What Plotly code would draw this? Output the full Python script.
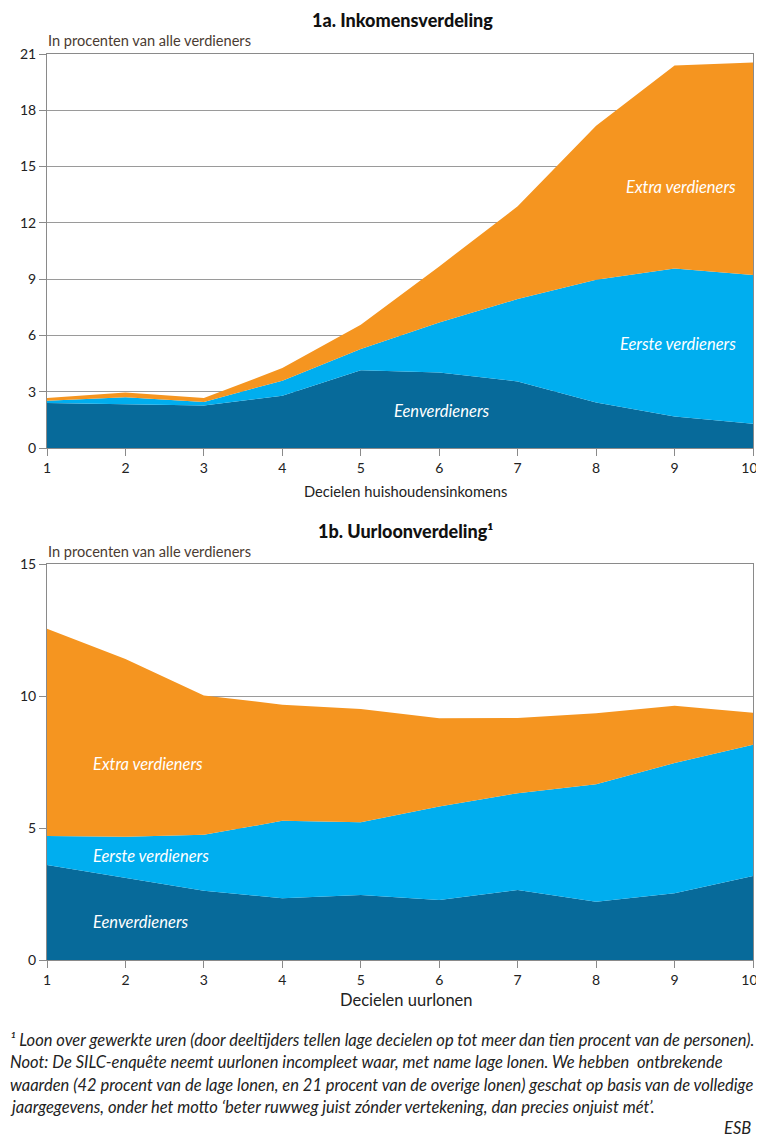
import plotly.graph_objects as go

# ---------------- data ----------------
deciles = [1, 2, 3, 4, 5, 6, 7, 8, 9, 10]
decile_labels = ["1", "2", "3", "4", "5", "6", "7", "8", "9", "10"]

# 1a. Inkomensverdeling (layer values, stacked)
inc_een = [2.40, 2.35, 2.27, 2.79, 4.14, 4.03, 3.55, 2.43, 1.68, 1.29]
inc_eerste = [0.12, 0.35, 0.18, 0.80, 1.14, 2.66, 4.39, 6.54, 7.89, 7.93]
inc_extra = [0.15, 0.26, 0.21, 0.67, 1.29, 2.99, 4.94, 8.21, 10.82, 11.33]

# 1b. Uurloonverdeling (layer values, stacked)
wage_een = [3.60, 3.12, 2.62, 2.34, 2.46, 2.27, 2.65, 2.21, 2.53, 3.18]
wage_eerste = [1.10, 1.55, 2.12, 2.93, 2.76, 3.54, 3.67, 4.45, 4.93, 4.97]
wage_extra = [7.85, 6.73, 5.28, 4.40, 4.29, 3.35, 2.85, 2.69, 2.17, 1.22]

series_names = ["Eenverdieners", "Eerste verdieners", "Extra verdieners"]
colors = ["#076a9a", "#00aeef", "#f59520"]

top_yticks = [0, 3, 6, 9, 12, 15, 18, 21]
bot_yticks = [0, 5, 10, 15]

# ---------------- figure ----------------
OFF = 8  # page body margin
W, H = 764 - OFF, 1142 - 2 * OFF
fig = go.Figure()

for vals, name, col in zip([inc_een, inc_eerste, inc_extra], series_names, colors):
    fig.add_trace(go.Scatter(x=deciles, y=vals, name=name, mode="lines",
                             stackgroup="a", line=dict(width=0, color=col),
                             fillcolor=col, xaxis="x", yaxis="y", showlegend=False))
for vals, name, col in zip([wage_een, wage_eerste, wage_extra], series_names, colors):
    fig.add_trace(go.Scatter(x=deciles, y=vals, name=name, mode="lines",
                             stackgroup="b", line=dict(width=0, color=col),
                             fillcolor=col, xaxis="x2", yaxis="y2", showlegend=False))

def px_x(p):
    return (p - OFF) / W

def px_y(p):
    return 1 - (p - OFF) / H

# keep the last label fully visible at the right edge
x_ticktext = decile_labels[:-1] + [decile_labels[-1] + "\u00a0\u00a0"]

x_dom = [px_x(47), px_x(753)]
axis_common = dict(showline=True, linecolor="#8a8a8a", linewidth=1, mirror=True,
                   ticks="outside", ticklen=7, tickcolor="#8a8a8a", automargin=False,
                   ticklabeloverflow="allow",
                   tickfont=dict(family="Lato", size=14, color="#222"), zeroline=False)

fig.update_layout(
    template="none",
    width=W, height=H, margin=dict(l=0, r=0, t=0, b=0, autoexpand=False),
    plot_bgcolor="white", paper_bgcolor="white",
    xaxis=dict(domain=x_dom, anchor="y", range=[1, 10], tickvals=deciles, ticktext=x_ticktext,
               showgrid=False, **axis_common),
    yaxis=dict(domain=[px_y(448), px_y(54)], anchor="x", range=[0, 21], tickvals=top_yticks,
               showgrid=True, gridcolor="#9a9a9a", gridwidth=1, **axis_common),
    xaxis2=dict(domain=x_dom, anchor="y2", range=[1, 10], tickvals=deciles, ticktext=x_ticktext,
                showgrid=False, **axis_common),
    yaxis2=dict(domain=[px_y(960), px_y(564)], anchor="x2", range=[0, 15], tickvals=bot_yticks,
                showgrid=True, gridcolor="#9a9a9a", gridwidth=1, **axis_common),
)

ann = []
def add_text(text, x, y, size=14, color="#222", xanchor="left", yanchor="middle",
             italic=False, weight="normal", family="Lato"):
    ann.append(dict(text=text, x=px_x(x), y=px_y(y), xref="paper", yref="paper",
                    xanchor=xanchor, yanchor=yanchor, showarrow=False,
                    font=dict(family=family, size=size, color=color,
                              style="italic" if italic else "normal", weight=weight)))

# titles
add_text("1a. Inkomensverdeling", 402, 20, size=18, color="#111", xanchor="center", weight=900)
add_text("1b. Uurloonverdeling¹", 405, 531, size=18, color="#111", xanchor="center", weight=900)
# y-axis units
add_text("In procenten van alle verdieners", 46, 41, size=14.6, color="#4a3b32")
add_text("In procenten van alle verdieners", 46, 551, size=14.6, color="#4a3b32")
# x-axis titles
add_text("Decielen huishoudensinkomens", 405, 491, size=14.7, color="#222", xanchor="center")
add_text("Decielen uurlonen", 406, 1000, size=16.5, color="#222", xanchor="center")

# in-area labels, top
add_text("Extra verdieners", 681, 187, size=16.5, color="white", xanchor="center", italic=True)
add_text("Eerste verdieners", 678, 344, size=16.5, color="white", xanchor="center", italic=True)
add_text("Eenverdieners", 441, 411, size=16.5, color="white", xanchor="center", italic=True)
# in-area labels, bottom
add_text("Extra verdieners", 91, 764, size=16.5, color="white", italic=True)
add_text("Eerste verdieners", 91, 856, size=16.5, color="white", italic=True)
add_text("Eenverdieners", 91, 922, size=16.5, color="white", italic=True)

# footnote
foot = [
    "¹ Loon over gewerkte uren (door deeltijders tellen lage decielen op tot meer dan tien procent van de personen).",
    "Noot: De SILC-enquête neemt uurlonen incompleet waar, met name lage lonen. We hebben  ontbrekende",
    "waarden (42 procent van de lage lonen, en 21 procent van de overige lonen) geschat op basis van de volledige",
    "jaargegevens, onder het motto ‘beter ruwweg juist zónder vertekening, dan precies onjuist mét’.",
]
for i, line in enumerate(foot):
    add_text(line, 8, 1040 + i * 22.3, size=16.5, color="#222", italic=True)
add_text("ESB", 753, 1128, size=16.5, color="#222", xanchor="right", italic=True)

fig.update_layout(annotations=ann)
fig.write_html("out.html")
